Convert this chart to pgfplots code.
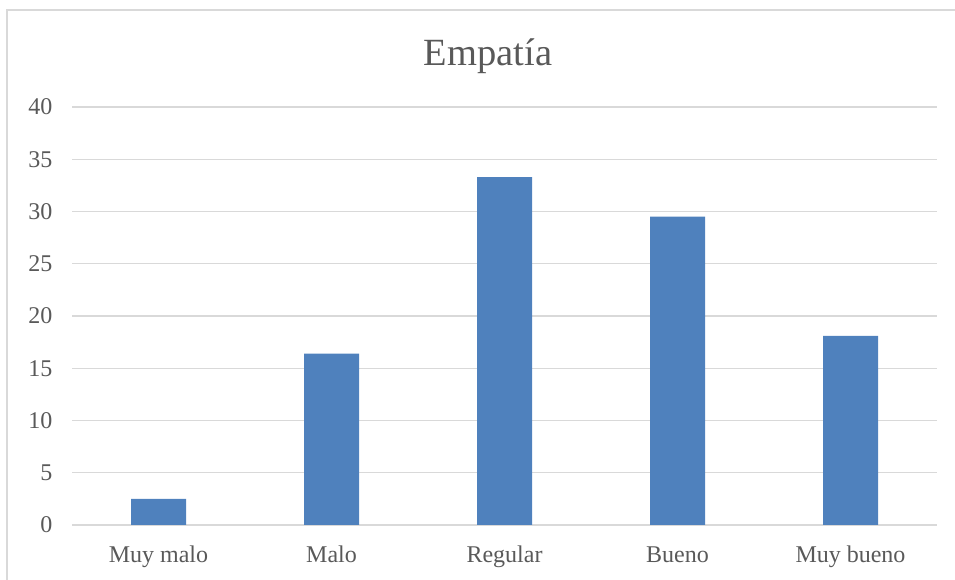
\documentclass[border=0pt]{standalone}
\usepackage{fontspec}
\setmainfont{Liberation Serif}
\usepackage{pgfplots}
\pgfplotsset{compat=1.18}
\definecolor{barblue}{HTML}{4F81BD}
\definecolor{gridgray}{HTML}{D9D9D9}
\definecolor{txtgray}{HTML}{595959}
\begin{document}
\begin{tikzpicture}[x=1pt,y=1pt]
\path[use as bounding box] (0,0) rectangle (955,580);
\draw[gridgray, line width=2.2pt] (7,0) -- (7,570) -- (955,570);
\node[txtgray, font=\fontsize{38.5}{42}\selectfont] at (488,524) {Empatía};
\begin{axis}[
  at={(72pt,55pt)}, anchor=south west,
  scale only axis, width=865pt, height=418pt,
  ymin=0, ymax=40, ytick={0,5,...,40},
  xmin=-0.5, xmax=4.5,
  xtick={0,1,2,3,4},
  xticklabels={Muy malo, Malo, Regular, Bueno, Muy bueno},
  ymajorgrids, grid style={gridgray, line width=1.2pt},
  axis line style={draw=none},
  major tick length=0pt,
  tick label style={txtgray, font=\fontsize{24}{27}\selectfont},
  /pgf/number format/assume math mode=true,
  yticklabel style={anchor=east, xshift=-16pt},
  xticklabel style={anchor=base, yshift=-38pt},
  ybar, bar width=55pt,
]
\addplot[fill=barblue, draw=none] coordinates {(0,2.5) (1,16.4) (2,33.3) (3,29.5) (4,18.1)};
\end{axis}
\end{tikzpicture}
\end{document}
